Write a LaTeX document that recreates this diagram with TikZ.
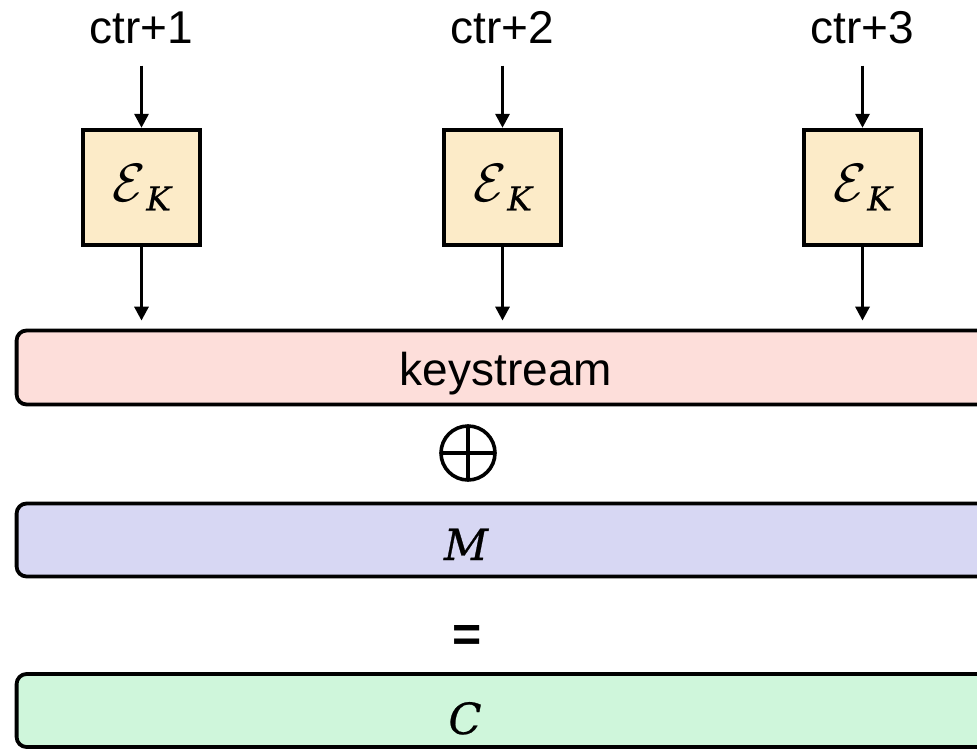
\documentclass[tikz,border=0pt]{standalone}
\usepackage{fix-cm}
\usepackage{fontspec}
\setmainfont{Liberation Sans}
\newfontface\varletface{DejaVu Serif Italic}[FakeBold=0.6]
\usetikzlibrary{arrows.meta}
\definecolor{encfill}{HTML}{FCEBC8}
\definecolor{ksfill}{HTML}{FDDEDA}
\definecolor{mfill}{HTML}{D7D7F3}
\definecolor{cfill}{HTML}{CFF6DB}
% italic variable letters and the keyed encryption symbol
\newcommand{\varlet}[1]{{\varletface #1}}
\newcommand{\enck}{$\mathcal{E}$\kern1pt\raisebox{-9pt}{\fontsize{33}{36}\selectfont\varlet{K}}}
\begin{document}
\begin{tikzpicture}[x=1pt,y=-1pt,
  font=\fontsize{46}{55}\selectfont,
  enc/.style={draw, line width=4.4pt, fill=encfill, minimum width=117pt,
    minimum height=115pt, inner sep=0pt,
    font=\fontsize{54}{60}\selectfont},
  bar/.style={draw, line width=3.8pt, rounded corners=10pt,
    minimum width=980pt, inner sep=0pt},
  flow/.style={-{Triangle[length=14pt,width=14pt]}, line width=3.2pt},
  lbl/.style={inner sep=0pt, anchor=base},
  mlbl/.style={lbl, font=\fontsize{43}{50}\selectfont}]
\useasboundingbox (0,0) rectangle (977,750);
\clip (0,0) rectangle (977,750);

% counter inputs
\node[lbl] (c1) at (141.5,43) {ctr+1};
\node[lbl] (c2) at (502.5,43) {ctr+2};
\node[lbl] (c3) at (862.5,43) {ctr+3};

% block cipher calls
\node[enc] (e1) at (141.5,187.5) {\enck};
\node[enc] (e2) at (502.5,187.5) {\enck};
\node[enc] (e3) at (862.5,187.5) {\enck};

% keystream, message and ciphertext bars
\node[bar, fill=ksfill, minimum height=74pt] (ks) at (506.6,367.5) {};
\node[bar, fill=mfill, minimum height=73pt] (mb) at (506.6,540) {};
\node[bar, fill=cfill, minimum height=73pt] (cb) at (506.6,710.5) {};

\node[lbl] (kst) at (506,385) {keystream};
\node[mlbl] (mt) at (466,560) {\varlet{M}};
\node[mlbl] (ct) at (465,734) {\varlet{C}};

% xor and equality signs
\node[circle, draw, line width=3.6pt, minimum size=54pt, inner sep=0pt,
  path picture={\draw[line width=3.6pt]
    (path picture bounding box.north) -- (path picture bounding box.south)
    (path picture bounding box.west) -- (path picture bounding box.east);}]
  (xor) at (468,453) {};
\node[lbl, font=\fontsize{50}{55}\selectfont\bfseries] (eq) at (467,651) {=};

% connectors
\foreach \i in {1,2,3}{
  \draw[flow, shorten <=22pt] (c\i.south) -- (e\i.north);
  \draw[flow, shorten >=8pt] (e\i.south) -- (e\i.south |- ks.north);
}
\end{tikzpicture}
\end{document}
